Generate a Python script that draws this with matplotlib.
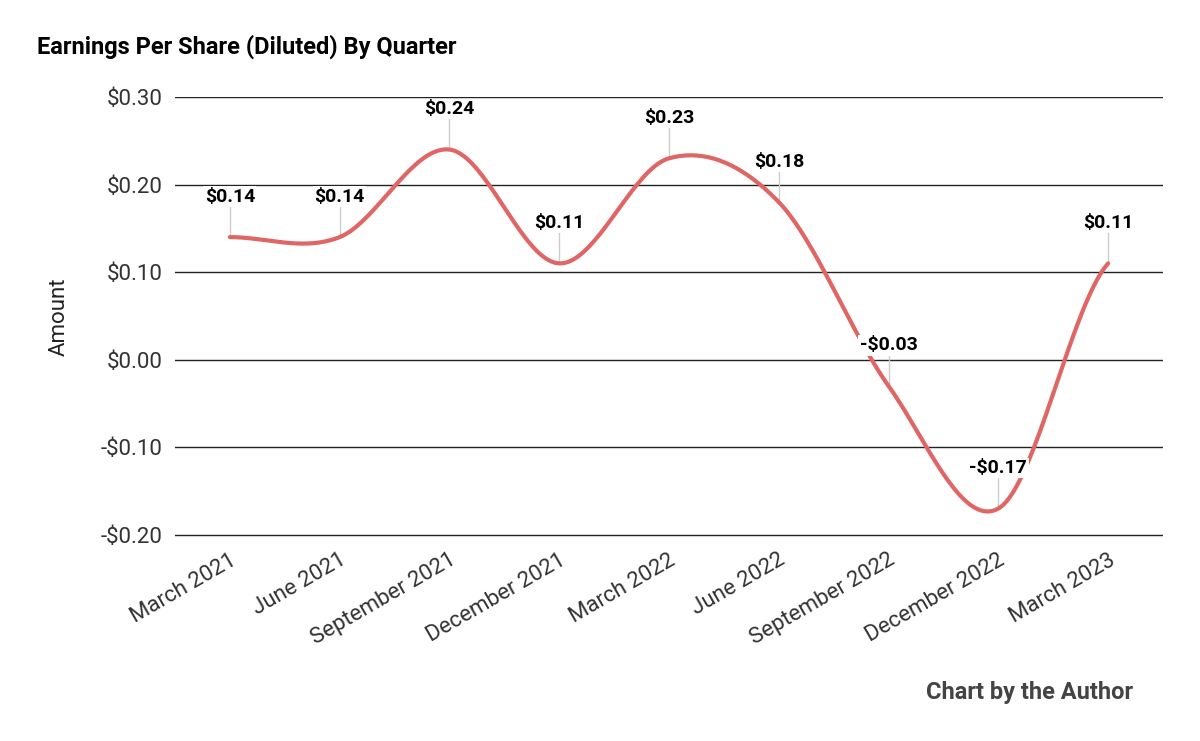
import numpy as np
import matplotlib
matplotlib.use("Agg")
import matplotlib.pyplot as plt

quarters = ["March 2021", "June 2021", "September 2021", "December 2021", "March 2022",
            "June 2022", "September 2022", "December 2022", "March 2023"]
eps = [0.14, 0.14, 0.24, 0.11, 0.23, 0.18, -0.03, -0.17, 0.11]
yticks = [-0.20, -0.10, 0.00, 0.10, 0.20, 0.30]

plt.rcParams["font.family"] = "Roboto"
fig = plt.figure(figsize=(12, 7.41), dpi=100)
ax = fig.add_axes([175/1200, 1-537/741, 988/1200, 440/741])

x = np.arange(len(eps))
y = np.array(eps)
xs, ys = [], []
P = np.concatenate([[y[0]], y, [y[-1]]])
for i in range(len(y)-1):
    p0, p1, p2, p3 = P[i], P[i+1], P[i+2], P[i+3]
    t = np.linspace(0, 1, 40)
    seg = 0.5*((2*p1) + (-p0+p2)*t + (2*p0-5*p1+4*p2-p3)*t**2 + (-p0+3*p1-3*p2+p3)*t**3)
    xs.extend(i + t); ys.extend(seg)
ax.plot(xs, ys, color="#e06666", lw=3, zorder=3, solid_capstyle="round")

for xi, yi in zip(x, y):
    ax.plot([xi, xi], [yi, yi+0.036], color="#cccccc", lw=1, zorder=2)
    lab = f"-${abs(yi):.2f}" if yi < 0 else f"${yi:.2f}"
    ax.text(xi, yi+0.036, lab, ha="center", va="bottom", fontsize=14, fontweight="bold",
            zorder=4, bbox=dict(facecolor="white", edgecolor="none", pad=1))

ax.set_xlim(-0.5, len(eps)-0.5)
ax.set_ylim(-0.2025, 0.3)
ax.set_yticks(yticks)
ax.set_yticklabels([f"-${abs(v):.2f}" if v < 0 else f"${v:.2f}" for v in yticks], fontsize=16, color="#333333")
ax.set_xticks(x)
ax.set_xticklabels(quarters, rotation=30, ha="right", rotation_mode="anchor", fontsize=16, color="#333333")
ax.grid(axis="y", color="#222222", lw=1)
ax.set_axisbelow(True)
for s in ax.spines.values():
    s.set_visible(False)
ax.tick_params(length=0, pad=9)
ax.set_ylabel("Amount", fontsize=16, color="#222222", labelpad=22)

fig.text(37/1200, 1-47/741, "Earnings Per Share (Diluted) By Quarter", fontsize=17, fontweight="bold", va="center")
fig.text(1133/1200, 1-692/741, "Chart by the Author", fontsize=17, fontweight="bold", color="#444444", ha="right", va="center")
fig.savefig("out.png", dpi=100)
